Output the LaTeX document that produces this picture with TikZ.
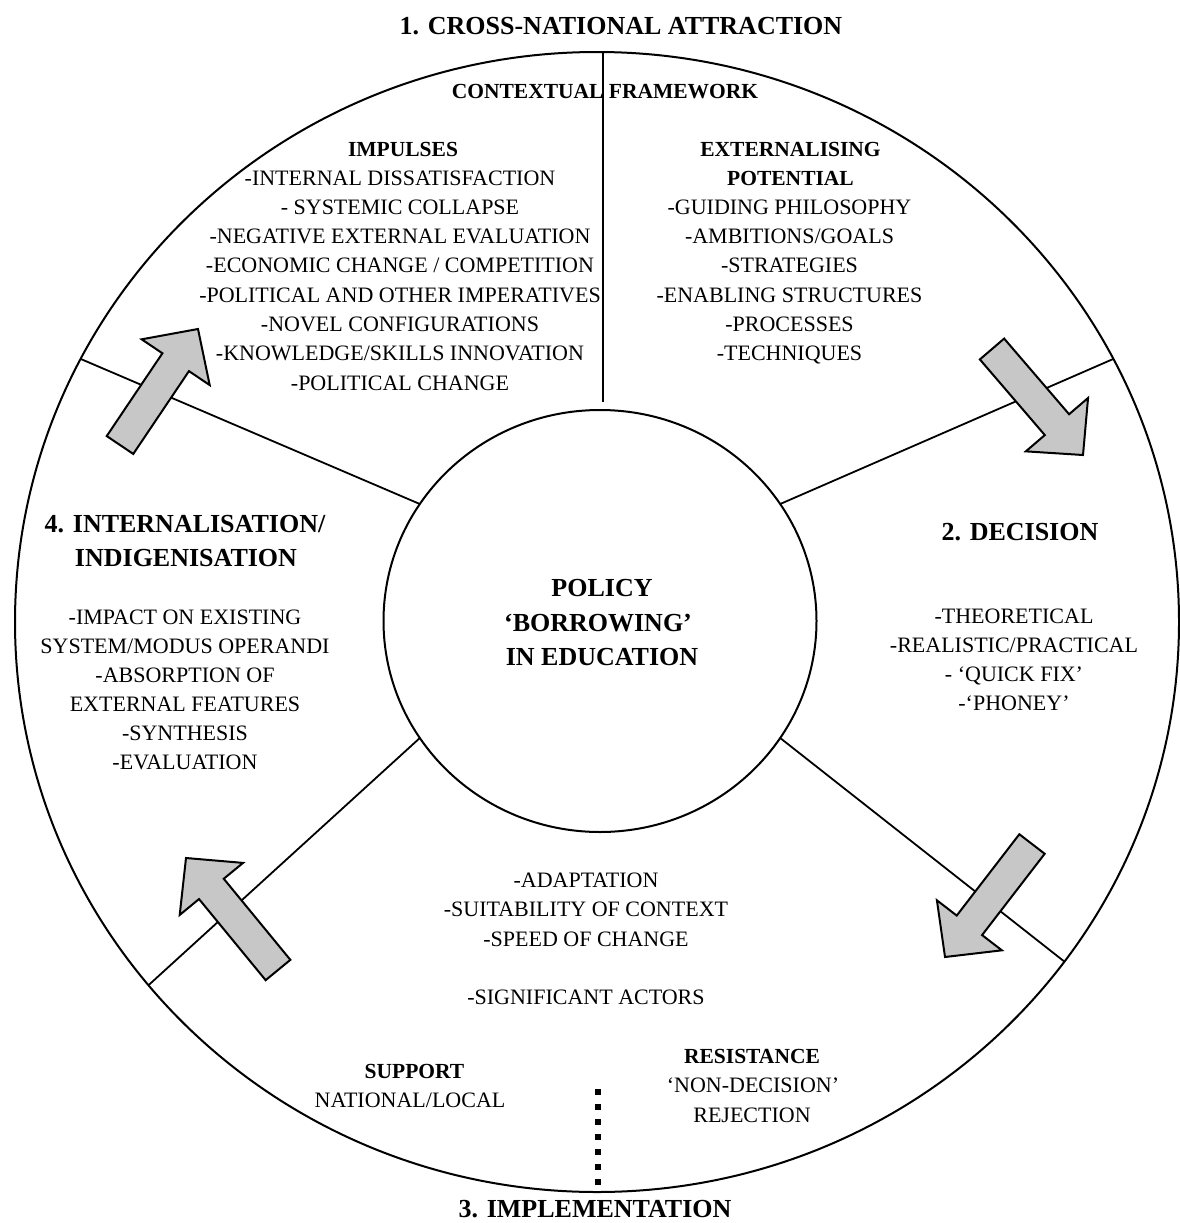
\documentclass[tikz,border=0pt]{standalone}
\usepackage{fontspec}
\setmainfont{Liberation Serif}
\usetikzlibrary{shapes.geometric,calc}
\tikzset{
  every node/.style={inner sep=0pt, outer sep=0pt},
  body/.style={font=\fontsize{22}{26}\selectfont, anchor=base},
  sub/.style={font=\fontsize{21.5}{26}\selectfont\bfseries, anchor=base},
  big/.style={font=\fontsize{26}{30}\selectfont\bfseries, anchor=base},
  ring/.style={draw, ellipse, line width=2pt},
  spoke/.style={line width=1.8pt},
  blockarr/.style={draw, line width=2pt, fill=black!22, line join=miter},
  dotline/.style={line width=6pt, dash pattern=on 6pt off 9pt},
}
\newcommand\blockarrow[2]{%
  \coordinate (#2b) at ($(#2)!40pt!(#1)$);
  \draw[blockarr] ($(#1)!16pt!90:(#2)$) -- ($(#2b)!16pt!90:(#2)$) -- ($(#2b)!41pt!90:(#2)$)
     -- (#2) -- ($(#2b)!41pt!-90:(#2)$) -- ($(#2b)!16pt!-90:(#2)$) -- ($(#1)!16pt!-90:(#2)$) -- cycle;}
\begin{document}
\begin{tikzpicture}[x=1pt, y=-1pt]
\useasboundingbox (0,0) rectangle (1180,1223);
% circles
\node[ring, minimum width=1164pt, minimum height=1140pt] (rim) at (597,622) {};
\node[ring, minimum width=433pt, minimum height=422pt] (hub) at (600,621) {};
% spokes
\coordinate (vtop) at (603,53);
\coordinate (vbot) at (603,402);
\draw[spoke] (vtop) -- (vbot);
\draw[spoke] (hub.147) -- (rim.153);
\draw[spoke] (hub.33) -- (rim.27);
\draw[spoke] (hub.213) -- (rim.219);
\draw[spoke] (hub.327) -- (rim.324);
% dotted divider
\coordinate (dtop) at (598,1089);
\coordinate (dbot) at (598,1186);
\draw[dotline] (dtop) -- (dbot);
% block arrows
\coordinate (t1) at (120,445); \coordinate (p1) at (198,329);
\coordinate (t2) at (992,349); \coordinate (p2) at (1083,455);
\coordinate (t3) at (1032,844); \coordinate (p3) at (945,957);
\coordinate (t4) at (278,970); \coordinate (p4) at (186,858);
\blockarrow{t1}{p1}
\blockarrow{t2}{p2}
\blockarrow{t3}{p3}
\blockarrow{t4}{p4}
% titles
\node[big] (s1) at (621,35) {1. CROSS-NATIONAL ATTRACTION};
\node[big] (s2) at (1020,540) {2. DECISION};
\node[big] (s3) at (595,1217) {3. IMPLEMENTATION};
\node[big] (s4a) at (185,532.5) {4. INTERNALISATION/};
\node[big] (s4b) at (186,566.5) {INDIGENISATION};
% centre
\node[big] (c1) at (602,596.5) {POLICY};
\node[big] (c2) at (598,631.5) {‘BORROWING’};
\node[big] (c3) at (602,665) {IN EDUCATION};
% stage 1
\node[sub] (ctx) at (605,98) {CONTEXTUAL FRAMEWORK};
\node[sub] (imph) at (403,156.5) {IMPULSES};
\foreach \t [count=\i] in {{-INTERNAL DISSATISFACTION},{- SYSTEMIC COLLAPSE},{-NEGATIVE EXTERNAL EVALUATION},{-ECONOMIC CHANGE / COMPETITION},{-POLITICAL AND OTHER IMPERATIVES},{-NOVEL CONFIGURATIONS},{-KNOWLEDGE/SKILLS INNOVATION},{-POLITICAL CHANGE}}
  \node[body] (imp\i) at (400,{185+29.3*(\i-1)}) {\t};
\node[sub] (exth1) at (790.5,156.5) {EXTERNALISING};
\node[sub] (exth2) at (790.5,185) {POTENTIAL};
\foreach \t [count=\i] in {{-GUIDING PHILOSOPHY},{-AMBITIONS/GOALS},{-STRATEGIES},{-ENABLING STRUCTURES},{-PROCESSES},{-TECHNIQUES}}
  \node[body] (ext\i) at (789.5,{214.3+29.3*(\i-1)}) {\t};
% stage 2
\foreach \t [count=\i] in {{-THEORETICAL},{-REALISTIC/PRACTICAL},{- ‘QUICK FIX’},{-‘PHONEY’}}
  \node[body] (dec\i) at (1014,{623.5+29*(\i-1)}) {\t};
% stage 3
\foreach \t [count=\i] in {{-ADAPTATION},{-SUITABILITY OF CONTEXT},{-SPEED OF CHANGE}}
  \node[body] (imf\i) at (586,{887.5+29.3*(\i-1)}) {\t};
\node[body] (act) at (586,1004) {-SIGNIFICANT ACTORS};
\node[sub] (sup) at (414.5,1078) {SUPPORT};
\node[body] (supl) at (410,1107.5) {NATIONAL/LOCAL};
\node[sub] (res) at (752,1063) {RESISTANCE};
\node[body] (res1) at (753,1092.5) {‘NON-DECISION’};
\node[body] (res2) at (752,1122) {REJECTION};
% stage 4
\foreach \t [count=\i] in {{-IMPACT ON EXISTING},{SYSTEM/MODUS OPERANDI},{-ABSORPTION OF},{EXTERNAL FEATURES},{-SYNTHESIS},{-EVALUATION}}
  \node[body] (int\i) at (185,{624+29*(\i-1)}) {\t};
\end{tikzpicture}
\end{document}
